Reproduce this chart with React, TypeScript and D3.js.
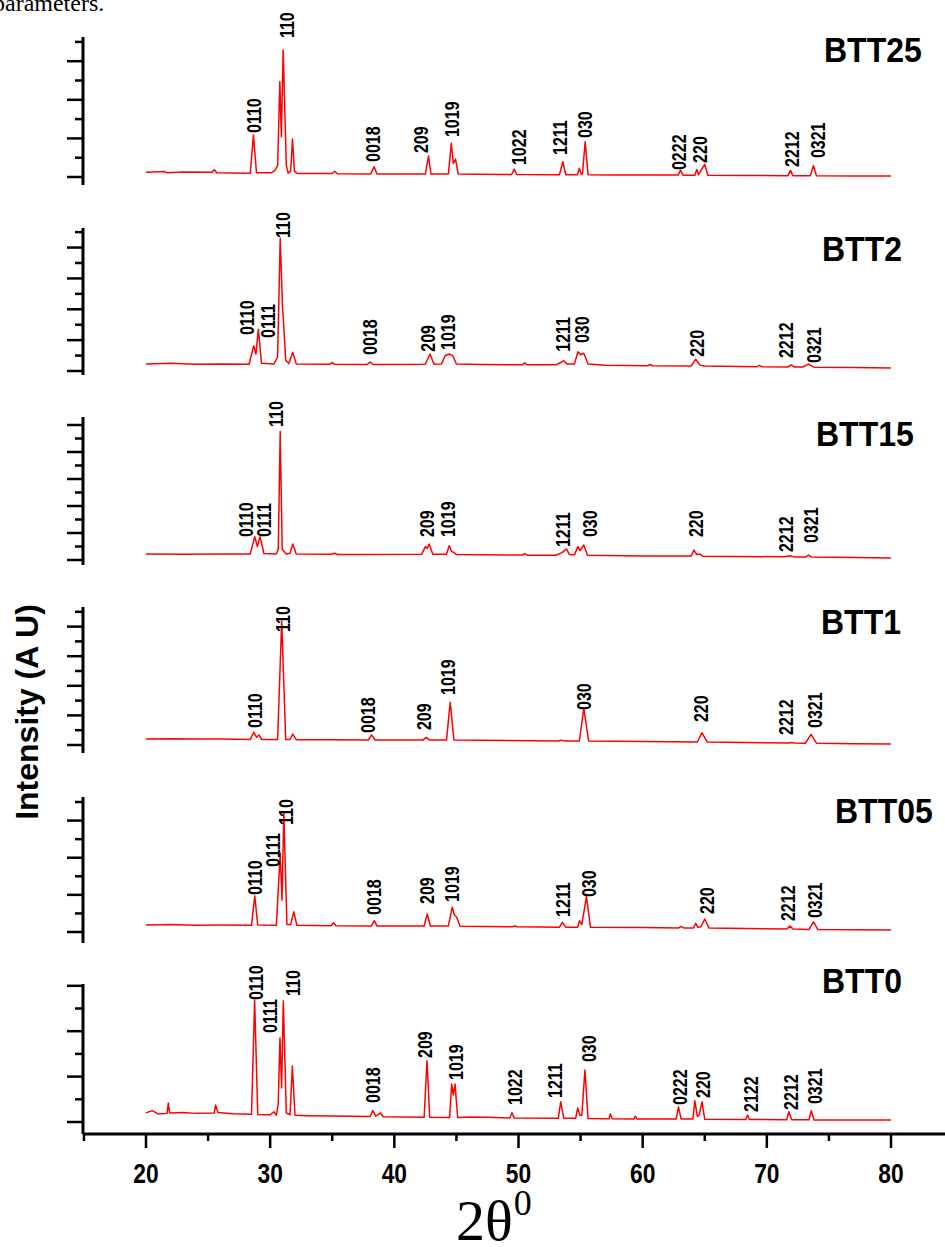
import React from "react";
import * as d3 from "d3";

// ---------- data (2θ in degrees, intensity in arbitrary units; 100 a.u. per y tick) ----------
const SAMPLES = ["BTT25", "BTT2", "BTT15", "BTT1", "BTT05", "BTT0"];

const BTT25: [number, number][] = [[20,24],[21.5,28],[21.7,22],[23,26],[25.3,24],[25.5,38],[25.7,22],[28.4,20],[28.65,218],[28.9,22],[30.1,22],[30.4,35],[30.6,60],[30.78,494],[30.9,209],[31.05,658],[31.3,60],[31.45,20],[31.65,30],[31.8,197],[31.95,30],[32.2,18],[35.0,18],[35.2,30],[35.4,17],[38.1,16],[38.37,53],[38.6,16],[42.5,15],[42.75,109],[42.95,15],[44.35,15],[44.59,175],[44.75,70],[44.93,93],[45.15,15],[46.5,14],[49.45,13],[49.65,41],[49.85,13],[53.3,12],[53.57,79],[53.8,12],[54.75,12],[54.9,45],[55.05,15],[55.15,15],[55.37,183],[55.6,12],[57.5,11],[60.0,10],[62.85,10],[63.05,36],[63.25,9],[64.2,9],[64.36,39],[64.5,12],[64.99,66],[65.25,9],[68.5,8],[71.7,7],[71.9,34],[72.1,7],[73.5,6],[73.75,59],[74.0,6],[77,5],[80,5]];

const BTT2: [number, number][] = [[20,45],[22,50],[24,44],[26,46],[28.3,44],[28.68,164],[28.85,110],[29.05,270],[29.3,50],[30.3,46],[30.6,90],[30.81,860],[31.0,400],[31.05,352],[31.25,70],[31.5,48],[31.82,121],[32.1,46],[34.8,44],[35.0,54],[35.2,43],[37.8,42],[38.05,58],[38.3,42],[42.5,44],[42.87,110],[43.2,44],[43.8,45],[44.1,100],[44.42,110],[44.7,100],[45.0,45],[47,42],[50.3,40],[50.5,52],[50.7,40],[53.0,40],[53.4,55],[53.66,67],[53.9,45],[54.5,45],[54.79,125],[55.0,105],[55.26,115],[55.6,45],[57,38],[60.4,34],[60.6,42],[60.8,34],[63.9,32],[64.27,76],[64.6,38],[65,32],[69.2,28],[69.4,36],[69.6,28],[71.7,26],[71.96,39],[72.2,26],[72.9,26],[73.35,45],[73.8,25],[77,22],[80,19]];

const BTT15: [number, number][] = [[20,44],[23,42],[26,44],[28.4,45],[28.76,173],[28.97,99],[29.18,173],[29.5,48],[30.5,45],[30.65,80],[30.81,951],[30.97,80],[31.3,45],[31.6,50],[31.82,119],[32.1,45],[34.9,42],[35.2,50],[35.4,41],[42.2,42],[42.5,99],[42.65,85],[42.8,119],[43.1,42],[44.2,42],[44.42,106],[44.6,65],[44.8,54],[45.0,40],[50.3,37],[50.5,48],[50.7,36],[53.0,35],[53.5,55],[53.87,82],[54.1,40],[54.5,38],[54.79,99],[54.95,70],[55.26,111],[55.55,35],[60,30],[63.9,29],[64.13,74],[64.35,40],[64.6,44],[64.85,28],[71.4,24],[71.87,32],[72.2,23],[73.15,22],[73.35,37],[73.6,22],[77,18],[80,15]];

const BTT1: [number, number][] = [[20,41],[22,43],[24,40],[26,41],[28.4,38],[28.68,86],[28.9,52],[29.1,68],[29.3,38],[30.6,38],[30.93,838],[31.25,38],[31.6,38],[31.82,74],[32.1,36],[35,35],[37.9,34],[38.17,68],[38.45,34],[42.3,33],[42.57,51],[42.85,33],[44.2,33],[44.5,289],[44.8,33],[53.2,27],[53.45,33],[53.7,27],[54.9,27],[55.26,248],[55.65,27],[60,24],[64.4,20],[64.77,83],[65.2,20],[71.8,14],[72,17],[72.2,14],[73.1,12],[73.56,72],[74,12],[77,9],[80,7]];

const BTT05: [number, number][] = [[20,38],[22,40],[24,36],[26,38],[28.5,37],[28.76,194],[29.0,38],[30.5,37],[30.81,424],[30.95,172],[31.1,639],[31.35,40],[31.65,40],[31.9,109],[32.15,36],[34.9,34],[35.1,50],[35.3,34],[38.15,32],[38.39,61],[38.6,32],[42.4,32],[42.65,97],[42.9,32],[44.35,32],[44.66,133],[44.85,90],[45.0,82],[45.3,31],[49.5,28],[49.7,33],[49.9,28],[53.3,26],[53.53,52],[53.8,26],[54.75,26],[54.92,61],[55.1,40],[55.47,190],[55.8,25],[60,24],[62.9,22],[63.1,30],[63.3,22],[64.1,22],[64.27,47],[64.45,25],[64.7,28],[65.0,70],[65.35,21],[71.6,16],[71.87,32],[72.1,16],[73.4,14],[73.76,54],[74.1,14],[77,12],[80,11]];

const BTT0: [number, number][] = [[20,40],[20.5,50],[21,35],[21.7,38],[21.8,84],[21.9,40],[23,42],[24,38],[25.5,40],[25.6,75],[25.8,42],[27,36],[28.5,34],[28.75,537],[29.0,33],[30.0,32],[30.3,45],[30.5,30],[30.65,80],[30.79,370],[30.92,150],[31.06,534],[31.3,40],[31.6,32],[31.79,247],[32.0,30],[33,28],[35,26],[38.05,24],[38.27,50],[38.5,26],[38.9,40],[39.1,23],[42.4,21],[42.63,270],[42.85,21],[44.45,20],[44.62,167],[44.75,119],[44.89,167],[45.1,20],[46,22],[47.5,21],[49.3,18],[49.47,41],[49.65,18],[53.2,16],[53.4,89],[53.65,16],[54.6,16],[54.77,62],[54.95,30],[55.1,30],[55.35,229],[55.6,15],[57.3,14],[57.4,35],[57.55,14],[59.3,13],[59.4,26],[59.55,13],[62.7,13],[62.88,67],[63.1,13],[64.05,13],[64.2,94],[64.4,25],[64.55,30],[64.78,89],[65.0,12],[68.3,11],[68.45,31],[68.6,11],[71.6,10],[71.77,45],[72.0,10],[73.4,10],[73.58,50],[73.8,9],[77,9],[80,9]];

// peak labels: [hkl, 2θ, intensity at text start]
const LABELS25: [string, number, number][] = [["0110",28.65,228],["110",31.32,720],["0018",38.28,78],["209",42.16,124],["1019",44.59,207],["1022",50.03,62],["1211",53.34,114],["030",55.37,202],["0222",62.92,36],["220",64.6,73],["2212",72.0,52],["0321",74.09,98]];
const LABELS2: [string, number, number][] = [["0110",28.13,233],["0111",29.81,214],["110",30.98,862],["0018",38.05,104],["209",42.66,125],["1019",44.33,136],["1211",53.59,125],["030",55.06,181],["220",64.35,93],["2212",71.55,84],["0321",73.77,52]];
const LABELS15: [string, number, number][] = [["0110",28.0,170],["0111",29.52,170],["110",30.43,986],["209",42.58,170],["1019",44.33,170],["1211",53.54,96],["030",55.76,170],["220",64.27,170],["2212",71.55,59],["0321",73.56,126]];
const LABELS1: [string, number, number][] = [["0110",28.76,115],["110",30.98,764],["0018",37.89,81],["209",42.37,101],["1019",44.33,338],["030",55.22,237],["220",64.69,155],["2212",71.55,68],["0321",73.9,115]];
const LABELS05: [string, number, number][] = [["0110",28.76,199],["0111",30.23,350],["110",31.27,576],["0018",38.31,92],["209",42.58,151],["1019",44.59,162],["1211",53.59,81],["030",55.64,188],["220",65.18,97],["2212",71.67,59],["0321",73.9,75]];
const LABELS0: [string, number, number][] = [["0110",28.84,537],["0111",29.97,392],["110",31.79,555],["0018",38.27,84],["209",42.44,282],["1019",44.93,185],["1022",49.69,75],["1211",52.95,106],["030",55.68,264],["0222",62.97,75],["220",64.88,106],["2122",68.73,44],["2212",71.9,53],["0321",73.85,79]];

const SERIES = [BTT25, BTT2, BTT15, BTT1, BTT05, BTT0];
const LABELS = [LABELS25, LABELS2, LABELS15, LABELS1, LABELS05, LABELS0];

const X_MINOR_TICKS = [15, 25, 35, 45, 55, 65, 75];
const X_MAJOR_TICKS = [20, 30, 40, 50, 60, 70, 80];

// ---------- layout ----------
const W = 945;
const H = 1247;
const AXIS_X = 83;
const X_AXIS_Y = 1134;
const LAYOUT = [
  { base: 177, step: 19.3, n: 8, top: 37, bottom: 185, tx: 824, ty: 62 },
  { base: 371, step: 15.43, n: 10, top: 228, bottom: 375, tx: 822, ty: 261 },
  { base: 560, step: 13.5, n: 11, top: 417, bottom: 565, tx: 816, ty: 446 },
  { base: 745, step: 14.8, n: 10, top: 607, bottom: 753, tx: 821, ty: 634 },
  { base: 932, step: 18.57, n: 8, top: 797, bottom: 943, tx: 835, ty: 823 },
  { base: 1122, step: 22.7, n: 7, top: 984, bottom: 1134, tx: 822, ty: 993 },
];

const SANS = "'Liberation Sans', Arial, Helvetica, sans-serif";
const SERIF = "'Liberation Serif', 'Times New Roman', serif";

export default function App() {
  const x = d3.scaleLinear().domain([20, 80]).range([146, 891]);

  return (
    <div style={{ position: "absolute", left: 0, top: 0 }}>
      <svg width={W} height={H} viewBox={`0 0 ${W} ${H}`} style={{ display: "block", background: "#fff" }}>
        <rect x={0} y={0} width={W} height={H} fill="#fff" />
        {/* clipped caption text from the page */}
        <text x={-7} y={11} fontFamily={SERIF} fontSize={24} fill="#000">parameters.</text>

        {SAMPLES.map((name, i) => {
          const L = LAYOUT[i];
          const max = (L.n - 1) * 100;
          const y = d3.scaleLinear().domain([0, max]).range([L.base, L.base - (L.n - 1) * L.step]);
          const line = d3.line<[number, number]>().x((d) => x(d[0])).y((d) => y(d[1]));
          const ticks = d3.range(0, max + 1, 100);
          return (
            <g key={name}>
              <line x1={AXIS_X} x2={AXIS_X} y1={L.top} y2={L.bottom} stroke="#000" strokeWidth={3} />
              {ticks.map((t, k) => (
                <line key={t} x1={k % 2 === 0 ? AXIS_X - 16 : AXIS_X - 8} x2={AXIS_X} y1={y(t)} y2={y(t)} stroke="#000" strokeWidth={2.5} />
              ))}
              <path d={line(SERIES[i]) || ""} fill="none" stroke="#ff0000" strokeWidth={1.5} strokeLinejoin="round" />
              {LABELS[i].map(([lab, pos, v]) => (
                <text key={lab + pos} transform={`translate(${x(pos)},${y(v)}) rotate(-90) scale(1,1.25)`} dy="0.36em" fontFamily={SANS} fontWeight="bold" fontSize={16} fill="#000">{lab}</text>
              ))}
              <text x={L.tx} y={L.ty} transform={`translate(0,${L.ty}) scale(1,1.08) translate(0,${-L.ty})`} fontFamily={SANS} fontWeight="bold" fontSize={32} fill="#000">{name}</text>
            </g>
          );
        })}

        {/* x axis */}
        <line x1={AXIS_X} x2={W} y1={X_AXIS_Y} y2={X_AXIS_Y} stroke="#000" strokeWidth={3} />
        {X_MINOR_TICKS.map((t) => (
          <line key={"mi" + t} x1={x(t)} x2={x(t)} y1={X_AXIS_Y} y2={X_AXIS_Y + 7} stroke="#000" strokeWidth={2.5} />
        ))}
        {X_MAJOR_TICKS.map((t) => (
          <g key={"ma" + t}>
            <line x1={x(t)} x2={x(t)} y1={X_AXIS_Y} y2={X_AXIS_Y + 14} stroke="#000" strokeWidth={2.5} />
            <text transform={`translate(${x(t)},1183) scale(0.95,1.12)`} textAnchor="middle" fontFamily={SANS} fontWeight="bold" fontSize={24} fill="#000">{t}</text>
          </g>
        ))}
        <text x={456} y={1240} fontFamily={SERIF} fontSize={58} fill="#000">
          2θ<tspan dx={1} dy={-25} fontSize={36}>0</tspan>
        </text>

        {/* y axis title */}
        <text transform="translate(38,712) rotate(-90)" textAnchor="middle" fontFamily={SANS} fontWeight="bold" fontSize={32} fill="#000">Intensity (A U)</text>
      </svg>
    </div>
  );
}
